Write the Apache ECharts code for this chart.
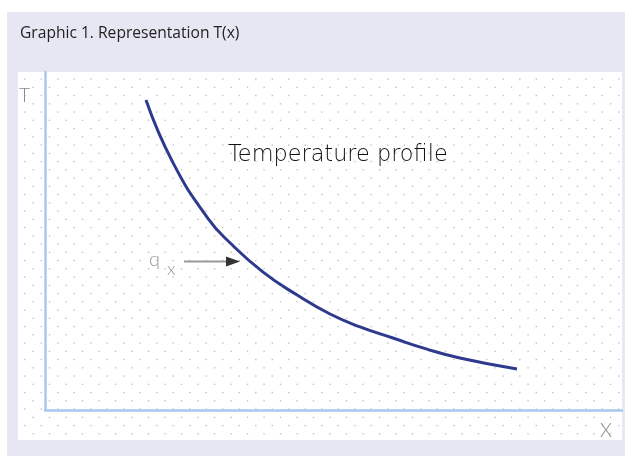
<!DOCTYPE html>
<html><head><meta charset="utf-8">
<script src="https://cdn.jsdelivr.net/npm/echarts@6/dist/echarts.min.js"></script>
<style>html,body{margin:0;padding:0;background:#fff}#c{width:625px;height:456px}</style>
</head><body><div id="c"></div>
<script>
// Temperature profile T(x) (arbitrary units, 0..100 on each axis)
const xValues = [17.5, 22.2, 28.2, 32.1, 37.8, 43.7, 49.4, 54.6, 60.3, 66.2, 71.9, 81.8];
const tValues = [91.7, 73.1, 56.8, 49.4, 40.8, 34.0, 28.4, 24.6, 21.3, 18.0, 15.4, 12.1];
const titleText = 'Graphic 1. Representation T(x)';
const curveLabel = 'Temperature profile';

// dotted background tile
function makeTile() {
  const s = 33, c = document.createElement('canvas');
  c.width = s; c.height = s;
  const g = c.getContext('2d');
  g.fillStyle = '#c4c4c4';
  const ox = 503.3 % 16.5, oy = 79 % 16.5;
  for (let i = -1; i <= 2; i++) for (let j = -1; j <= 2; j++) {
    [[0,0],[8.25,8.25]].forEach(([dx,dy]) => {
      g.beginPath();
      g.arc(ox + dx + i*16.5, oy + dy + j*16.5, 0.85, 0, Math.PI*2);
      g.fill();
    });
  }
  return c;
}

const chart = echarts.init(document.getElementById('c'), null, {renderer: 'canvas'});
chart.setOption({
  backgroundColor: '#ffffff',
  animation: false,
  grid: {left: 45, top: 72, right: 3, bottom: 46},
  xAxis: {type: 'value', min: 0, max: 100,
    axisLine: {show: true, lineStyle: {color: '#a9c8f0', width: 2.5}},
    axisTick: {show: false}, axisLabel: {show: false}, splitLine: {show: false}},
  yAxis: {type: 'value', min: 0, max: 100,
    axisLine: {show: true, lineStyle: {color: '#a9c8f0', width: 2.5}},
    axisTick: {show: false}, axisLabel: {show: false}, splitLine: {show: false}},
  graphic: [
    {type: 'rect', z: -10, silent: true, shape: {x: 7, y: 12, width: 618, height: 444}, style: {fill: '#e7e7f3'}},
    {type: 'rect', z: -9, silent: true, shape: {x: 18, y: 72, width: 604, height: 368}, style: {fill: '#ffffff'}},
    {type: 'rect', z: -8, silent: true, shape: {x: 18, y: 72, width: 604, height: 368}, style: {fill: {image: makeTile(), repeat: 'repeat'}}},
    {type: 'text', left: 20, top: 26, style: {text: titleText, font: '15.6px "Open Sans", sans-serif', fill: '#222'}},
    {type: 'text', left: 228, top: 144, style: {text: curveLabel, font: '200 22.4px "DejaVu Sans", sans-serif', fill: '#111'}},
    {type: 'text', left: 19, top: 86, style: {text: 'T', font: '300 19px Lato, sans-serif', fill: '#888'}},
    {type: 'text', left: 600, top: 421, style: {text: 'X', font: '300 19px Lato, sans-serif', fill: '#888'}},
    {type: 'text', left: 149, top: 250, style: {text: 'q', font: '300 20px Lato, sans-serif', fill: '#999'}},
    {type: 'text', left: 167, top: 260, style: {text: 'x', font: '300 18px Lato, sans-serif', fill: '#999'}},
    {type: 'line', shape: {x1: 184, y1: 261.5, x2: 230, y2: 261.5}, style: {stroke: '#999', lineWidth: 2}},
    {type: 'polygon', shape: {points: [[226, 256.5], [240, 261.5], [226, 266.5]]}, style: {fill: '#333'}}
  ],
  series: [{
    type: 'line', smooth: 0.5, showSymbol: false,
    data: xValues.map((x, i) => [x, tValues[i]]),
    lineStyle: {color: '#2d3a8e', width: 3}
  }]
});
</script></body></html>
